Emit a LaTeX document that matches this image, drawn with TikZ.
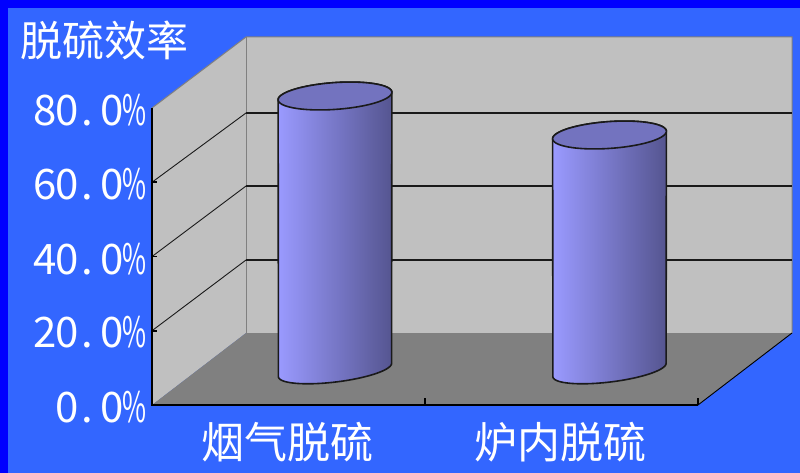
\documentclass[tikz,border=0pt]{standalone}
\usepackage{fontspec}
\usepackage{graphicx}
\newfontfamily\cjk{Noto Sans CJK SC}
\definecolor{bgblue}{HTML}{3366FF}
\definecolor{edgeblue}{HTML}{0000FF}
\definecolor{wallgray}{HTML}{C0C0C0}
\definecolor{floorgray}{HTML}{808080}
\definecolor{cylL}{HTML}{9A9AFF}
\definecolor{cylR}{HTML}{555590}
\definecolor{cyltop}{HTML}{7373BF}
\definecolor{cylline}{HTML}{1A1A1A}
\newcommand\hw[1]{\makebox[22.4pt][c]{#1}}
\newcommand\hwdot{\makebox[22.4pt][l]{\hspace{3pt}.}}
\newcommand\hwpct{\makebox[22.4pt][c]{\scalebox{0.62}[1]{\%}}}
\tikzset{
  txt/.style={text=white, inner sep=0pt, font=\cjk\fontsize{42}{42}\selectfont},
  cattxt/.style={text=white, inner sep=0pt, font=\cjk\fontsize{43}{43}\selectfont},
  gridline/.style={draw=black!90, line width=1.3pt},
  diagline/.style={draw=black!90, line width=0.9pt},
  axisline/.style={draw=black, line width=1.8pt},
  walledge/.style={draw=floorgray, line width=1pt},
  cylout/.style={draw=cylline, line width=1.6pt, line join=round},
}
\begin{document}
\begin{tikzpicture}[x=1pt,y=-1pt]
\useasboundingbox (0,0) rectangle (800,473);
\fill[edgeblue] (0,0) rectangle (800,473);
\fill[bgblue] (8,8) rectangle (800,473);
% corners
\coordinate (FTL) at (152,108);
\coordinate (FBL) at (152,405);
\coordinate (FBR) at (698,405);
\coordinate (BTL) at (246,37);
\coordinate (BBL) at (246,333);
\coordinate (BTR) at (792,37);
\coordinate (BBR) at (792,333);
% walls and floor
\fill[wallgray] (BTL) -- (FTL) -- (FBL) -- (BBL) -- cycle;
\fill[wallgray] (BTL) rectangle (BBR);
\fill[floorgray] (FBL) -- (FBR) -- (BBR) -- (BBL) -- cycle;
\draw[walledge] (FTL) -- (BTL) -- (BTR) -- (BBR);
\draw[walledge] (BTL) -- (BBL);
% gridlines
\foreach \fy/\by in {330.75/260, 256.5/186, 182.25/113}{
  \draw[diagline] (152,\fy) -- (246,\by);
  \draw[gridline] (246,\by) -- (792,\by);
  \draw[axisline] (152,\fy) -- (157,\fy);
}
% axes
\draw[axisline] (FTL) -- (FBL) -- (FBR);
\draw[draw=black, line width=0.9pt] (FBR) -- (BBR);
\draw[axisline, line width=1.2pt] (425,405) -- (425,398);
\draw[axisline, line width=1.2pt] (698,405) -- (698,398);
% cylinders
\foreach \cx/\yt/\yb in {335/96/370, 609.5/135/370}{
  \pgfmathsetmacro\ca{57}
  \pgfmathsetmacro\tb{13.4}
  \pgfmathsetmacro\tth{-4}
  \pgfmathsetmacro\bb{12}
  \pgfmathsetmacro\bth{-7}
  \pgfmathsetmacro\tz{atan(-\tb*sin(\tth)/(\ca*cos(\tth)))}
  \pgfmathsetmacro\bz{atan(-\bb*sin(\bth)/(\ca*cos(\bth)))}
  \pgfmathsetmacro\bzz{\bz+180}
  \pgfmathsetmacro\tzz{\tz+180}
  \pgfmathsetmacro\tzzz{\tz+360}
  \path[cylout, left color=cylL, right color=cylR]
    plot[domain=\bz:\bzz, samples=60, variable=\t]
      ({\cx+\ca*cos(\t)*cos(\bth)-\bb*sin(\t)*sin(\bth)},{\yb+\ca*cos(\t)*sin(\bth)+\bb*sin(\t)*cos(\bth)})
    -- plot[domain=\tzz:\tzzz, samples=60, variable=\t]
      ({\cx+\ca*cos(\t)*cos(\tth)-\tb*sin(\t)*sin(\tth)},{\yt+\ca*cos(\t)*sin(\tth)+\tb*sin(\t)*cos(\tth)})
    -- cycle;
  \path[cylout, fill=cyltop]
    plot[domain=0:360, samples=100, variable=\t]
      ({\cx+\ca*cos(\t)*cos(\tth)-\tb*sin(\t)*sin(\tth)},{\yt+\ca*cos(\t)*sin(\tth)+\tb*sin(\t)*cos(\tth)}) -- cycle;
}
% labels
\node[txt] (title) at (104,40) {脱硫效率};
\node[txt, anchor=east] (y80) at (146,110) {\hw{8}\hw{0}\hwdot\hw{0}\hwpct};
\node[txt, anchor=east] (y60) at (146,184) {\hw{6}\hw{0}\hwdot\hw{0}\hwpct};
\node[txt, anchor=east] (y40) at (146,259) {\hw{4}\hw{0}\hwdot\hw{0}\hwpct};
\node[txt, anchor=east] (y20) at (146,332) {\hw{2}\hw{0}\hwdot\hw{0}\hwpct};
\node[txt, anchor=east] (y0) at (146,407) {\hw{0}\hwdot\hw{0}\hwpct};
\node[cattxt] (cat1) at (287,442) {烟气脱硫};
\node[cattxt] (cat2) at (560,442) {炉内脱硫};
\end{tikzpicture}
\end{document}
